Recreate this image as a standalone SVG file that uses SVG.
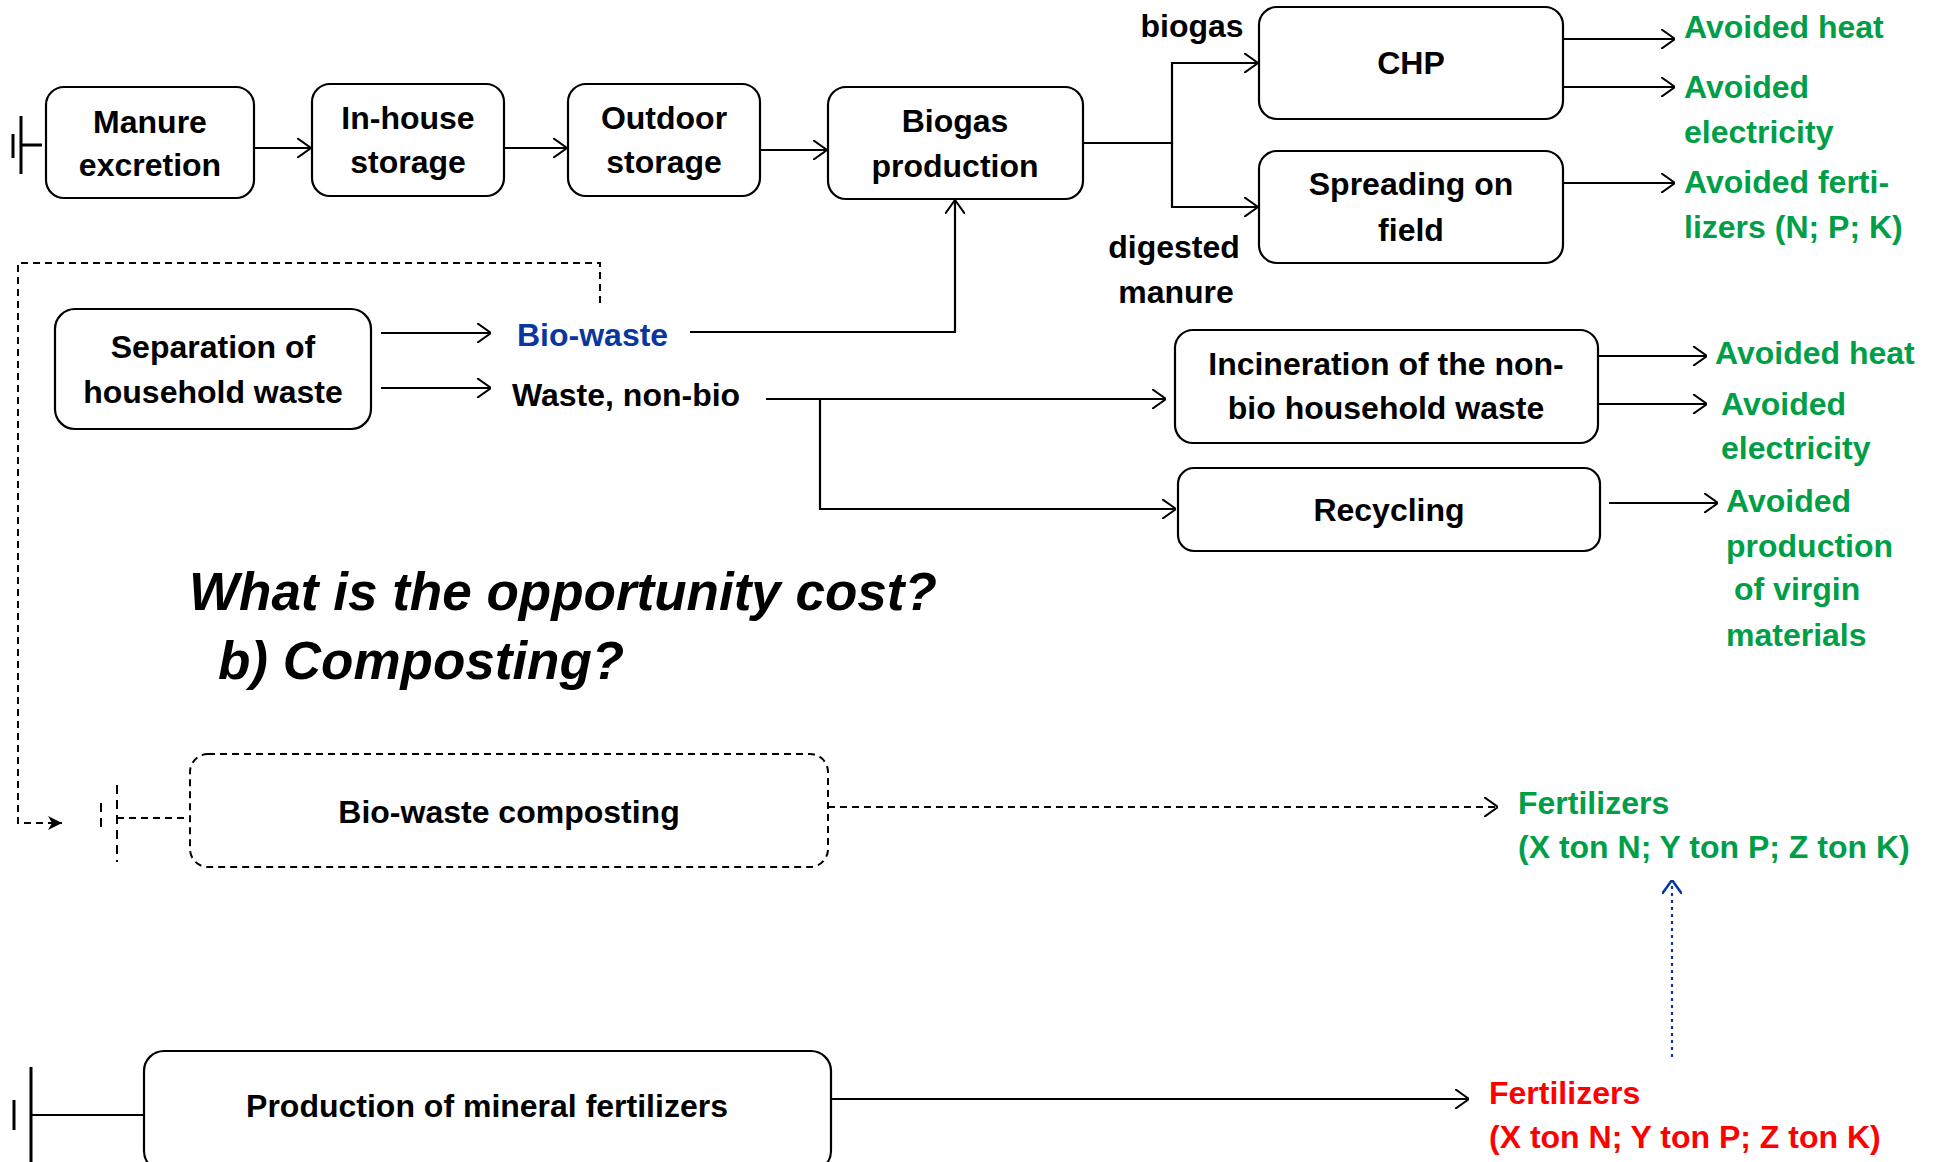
<svg xmlns="http://www.w3.org/2000/svg" width="1943" height="1162" viewBox="0 0 1943 1162">
<style>
.box{fill:#fff;stroke:#000;stroke-width:2.2}
.dbox{fill:#fff;stroke:#000;stroke-width:2;stroke-dasharray:7 5}
.t{font-family:"Liberation Sans",Arial,sans-serif;font-weight:bold;font-size:32px;fill:#000}
.c{text-anchor:middle}
.g{fill:#009E47}
.b{fill:#0A36A0}
.r{fill:#FF0000}
.q{font-family:"Liberation Sans",Arial,sans-serif;font-weight:bold;font-style:italic;font-size:53px;fill:#000}
.ln{fill:none;stroke:#000;stroke-width:2.2}
.dl{fill:none;stroke:#000;stroke-width:2;stroke-dasharray:7 5}
.bl{fill:none;stroke:#0A36A0;stroke-width:2.2;stroke-dasharray:3 4}
.bar{fill:none;stroke:#000;stroke-width:3}
.dbar{fill:none;stroke:#000;stroke-width:2;stroke-dasharray:9 6}
</style>
<defs>
<marker id="ah" viewBox="0 0 14 20" refX="14" refY="10" markerWidth="14" markerHeight="20" markerUnits="userSpaceOnUse" orient="auto">
<path d="M0,0 L14,10 L0,20" fill="none" stroke="#000" stroke-width="2"/>
</marker>
<marker id="ahb" viewBox="0 0 14 20" refX="14" refY="10" markerWidth="14" markerHeight="20" markerUnits="userSpaceOnUse" orient="auto">
<path d="M0,0 L14,10 L0,20" fill="none" stroke="#0A36A0" stroke-width="2.5"/>
</marker>
<marker id="ahf" viewBox="0 0 14 14" refX="14" refY="7" markerWidth="14" markerHeight="14" markerUnits="userSpaceOnUse" orient="auto">
<path d="M0,0 L14,7 L0,14 L4,7 Z" fill="#000"/>
</marker>
</defs>
<rect width="1943" height="1162" fill="#fff"/>

<g id="connectors">
<path class="bar" d="M21,116 V174 M13,134 V158 M21,145 H42"/>
<path class="ln" d="M254,148 H311" marker-end="url(#ah)"/>
<path class="ln" d="M504,148 H567" marker-end="url(#ah)"/>
<path class="ln" d="M760,150 H827" marker-end="url(#ah)"/>
<path class="ln" d="M1083,143 H1172 V63 H1258" marker-end="url(#ah)"/>
<path class="ln" d="M1172,143 V207 H1258" marker-end="url(#ah)"/>
<path class="ln" d="M1563,39 H1675" marker-end="url(#ah)"/>
<path class="ln" d="M1563,87 H1675" marker-end="url(#ah)"/>
<path class="ln" d="M1563,183 H1675" marker-end="url(#ah)"/>
<path class="ln" d="M381,333 H491" marker-end="url(#ah)"/>
<path class="ln" d="M381,388 H491" marker-end="url(#ah)"/>
<path class="ln" d="M690,332 H955 V200" marker-end="url(#ah)"/>
<path class="ln" d="M766,399 H1166" marker-end="url(#ah)"/>
<path class="ln" d="M820,399 V509 H1176" marker-end="url(#ah)"/>
<path class="ln" d="M1598,356 H1707" marker-end="url(#ah)"/>
<path class="ln" d="M1598,404 H1707" marker-end="url(#ah)"/>
<path class="ln" d="M1609,503 H1718" marker-end="url(#ah)"/>
<path class="dl" d="M600,303 V263 H18 V823 H62" marker-end="url(#ahf)"/>
<path class="dbar" d="M117,785 V862 M101,803 V833"/>
<path class="dl" d="M117,818 H190"/>
<path class="dl" d="M828,807 H1498" marker-end="url(#ah)"/>
<path class="bar" d="M31,1067 V1162 M14,1100 V1130"/>
<path class="ln" d="M31,1115 H144"/>
<path class="ln" d="M831,1099 H1469" marker-end="url(#ah)"/>
<path class="bl" d="M1672,1057 V880" marker-end="url(#ahb)"/>
</g>

<g id="manure-excretion">
<rect class="box" x="46" y="87" width="208" height="111" rx="18"/>
<text class="t c" x="150" y="133">Manure</text>
<text class="t c" x="150" y="176">excretion</text>
</g>
<g id="in-house-storage">
<rect class="box" x="312" y="84" width="192" height="112" rx="18"/>
<text class="t c" x="408" y="129">In-house</text>
<text class="t c" x="408" y="173">storage</text>
</g>
<g id="outdoor-storage">
<rect class="box" x="568" y="84" width="192" height="112" rx="18"/>
<text class="t c" x="664" y="129">Outdoor</text>
<text class="t c" x="664" y="173">storage</text>
</g>
<g id="biogas-production">
<rect class="box" x="828" y="87" width="255" height="112" rx="18"/>
<text class="t c" x="955" y="132">Biogas</text>
<text class="t c" x="955" y="177">production</text>
</g>
<g id="label-biogas">
<text class="t c" x="1192" y="37">biogas</text>
</g>
<g id="label-digested">
<text class="t c" x="1174" y="258">digested</text>
<text class="t c" x="1176" y="303">manure</text>
</g>
<g id="chp">
<rect class="box" x="1259" y="7" width="304" height="112" rx="18"/>
<text class="t c" x="1411" y="74">CHP</text>
</g>
<g id="spreading">
<rect class="box" x="1259" y="151" width="304" height="112" rx="18"/>
<text class="t c" x="1411" y="195">Spreading on</text>
<text class="t c" x="1411" y="241">field</text>
</g>
<g id="out-chp-heat"><text class="t g" x="1684" y="38">Avoided heat</text></g>
<g id="out-chp-el">
<text class="t g" x="1684" y="98">Avoided</text>
<text class="t g" x="1684" y="143">electricity</text>
</g>
<g id="out-spread">
<text class="t g" x="1684" y="193">Avoided ferti-</text>
<text class="t g" x="1684" y="238">lizers (N; P; K)</text>
</g>
<g id="separation">
<rect class="box" x="55" y="309" width="316" height="120" rx="20"/>
<text class="t c" x="213" y="358">Separation of</text>
<text class="t c" x="213" y="403">household waste</text>
</g>
<g id="bio-waste"><text class="t b" x="517" y="346">Bio-waste</text></g>
<g id="waste-non-bio"><text class="t" x="512" y="406">Waste, non-bio</text></g>
<g id="incineration">
<rect class="box" x="1175" y="330" width="423" height="113" rx="18"/>
<text class="t c" x="1386" y="375">Incineration of the non-</text>
<text class="t c" x="1386" y="419">bio household waste</text>
</g>
<g id="recycling">
<rect class="box" x="1178" y="468" width="422" height="83" rx="16"/>
<text class="t c" x="1389" y="521">Recycling</text>
</g>
<g id="out-inc-heat"><text class="t g" x="1715" y="364">Avoided heat</text></g>
<g id="out-inc-el">
<text class="t g" x="1721" y="415">Avoided</text>
<text class="t g" x="1721" y="459">electricity</text>
</g>
<g id="out-recycling">
<text class="t g" x="1726" y="512">Avoided</text>
<text class="t g" x="1726" y="557">production</text>
<text class="t g" x="1734" y="600">of virgin</text>
<text class="t g" x="1726" y="646">materials</text>
</g>
<g id="question">
<text class="q" x="189" y="610">What is the opportunity cost?</text>
<text class="q" x="218" y="679">b) Composting?</text>
</g>
<g id="composting">
<rect class="dbox" x="190" y="754" width="638" height="113" rx="18"/>
<text class="t c" x="509" y="823">Bio-waste composting</text>
</g>
<g id="fert-green">
<text class="t g" x="1518" y="814">Fertilizers</text>
<text class="t g" x="1518" y="858">(X ton N; Y ton P; Z ton K)</text>
</g>
<g id="mineral-fertilizers">
<rect class="box" x="144" y="1051" width="687" height="120" rx="20"/>
<text class="t c" x="487" y="1117">Production of mineral fertilizers</text>
</g>
<g id="fert-red">
<text class="t r" x="1489" y="1104">Fertilizers</text>
<text class="t r" x="1489" y="1148">(X ton N; Y ton P; Z ton K)</text>
</g>
</svg>
